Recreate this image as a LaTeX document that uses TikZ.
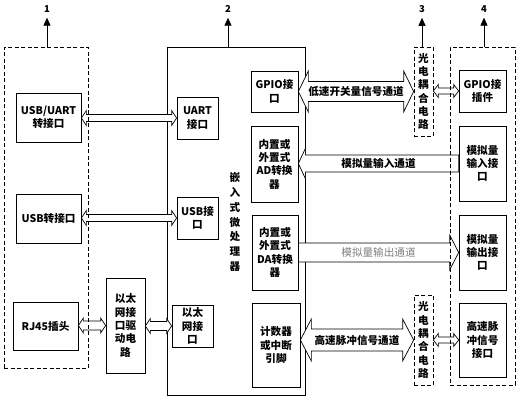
\documentclass[tikz,border=0pt]{standalone}
\usepackage{fontspec}
\setmainfont{Noto Sans CJK SC}
\usepackage{xcolor}
\usepackage{tikz}
\usetikzlibrary{positioning, arrows.meta, backgrounds, calc}
\definecolor{outgray}{HTML}{808080}

\newcommand{\boxfont}{\fontsize{10.6}{13.3}\selectfont\bfseries}
\newcommand{\vertfont}{\fontsize{10.6}{14.7}\selectfont\bfseries}

% hollow channel arrows between two anchors, tip(s) drawn as polygon
\newcommand{\chan}[6][]{%
  \draw[chanline,#1] let \p1=(#2), \p2=(#3), \n1={sign(\x2-\x1)} in
    (\x1,\y1+#4) -- (\x2-\n1*#6,\y1+#4) -- (\x2-\n1*#6,\y1+#5) -- (\x2,\y1)
    -- (\x2-\n1*#6,\y1-#5) -- (\x2-\n1*#6,\y1-#4) -- (\x1,\y1-#4) -- cycle;}
\newcommand{\dchan}[6][]{%
  \draw[chanline,#1] let \p1=(#2), \p2=(#3), \n1={sign(\x2-\x1)} in
    (\x1,\y2) -- (\x1+\n1*#6,\y2+#5) -- (\x1+\n1*#6,\y2+#4) -- (\x2-\n1*#6,\y2+#4)
    -- (\x2-\n1*#6,\y2+#5) -- (\x2,\y2) -- (\x2-\n1*#6,\y2-#5) -- (\x2-\n1*#6,\y2-#4)
    -- (\x1+\n1*#6,\y2-#4) -- (\x1+\n1*#6,\y2-#5) -- cycle;}

\tikzset{
  wh/.style 2 args={minimum width=#1pt, minimum height=#2pt},
  blk/.style={draw, line width=0.7pt, align=center, inner sep=0pt, font=\boxfont},
  grp/.style={draw, line width=0.7pt, dash pattern=on 4pt off 2.5pt, inner sep=0pt},
  optobox/.style={grp, align=center, font=\boxfont},
  chanline/.style={draw, fill=white, line width=0.7pt},
  chantext/.style={font=\boxfont, inner sep=0pt},
  tag/.style={font=\fontsize{9.5}{10}\selectfont\bfseries, inner sep=1pt},
  tagarrow/.style={line width=0.8pt, -{Triangle[length=8pt,width=7pt]}, shorten >=4pt},
}

\begin{document}
\begin{tikzpicture}[x=1pt, y=-1pt]
  \useasboundingbox (0,0) rectangle (519,400);

  % processor frame goes below the channel arrows
  \begin{scope}[on background layer]
    \node[blk, wh={138}{348}] (proc) at (236,221) {};
  \end{scope}

  % group 1
  \node[blk, wh={65}{49}] (usbuart) at (48.5,117.5) {USB/UART\\转接口};
  \node[blk, wh={65}{49}] (usbconv) at (48.5,218.5) {USB转接口};
  \node[blk, wh={65}{48}] (rj45) at (45.5,326) {RJ45插头};
  \node[blk, wh={39}{95}] (ethdrv) at (125.5,325.5) {以太\\网接\\口驱\\动电\\路};

  % group 2
  \node[blk, wh={41}{42}] (uart) at (197.5,118) {UART\\接口};
  \node[blk, wh={41}{42}] (usbif) at (197.5,218) {USB接\\口};
  \node[blk, wh={41}{42}] (ethif) at (192.5,326) {以太\\网接\\口};
  \node[align=center, font=\vertfont, inner sep=0pt] (proctxt) at (235,222) {嵌\\入\\式\\微\\处\\理\\器};
  \node[blk, wh={47}{41}] (gpio) at (274.5,91.5) {GPIO接\\口};
  \node[blk, wh={47}{76}] (ad) at (274.5,164) {内置或\\外置式\\AD转换\\器};
  \node[blk, wh={46}{75}] (da) at (275,252.5) {内置或\\外置式\\DA转换\\器};
  \node[blk, wh={48}{84}] (cnt) at (276,345) {计数器\\或中断\\引脚};

  % group 4
  \node[blk, wh={47}{42}] (gpioconn) at (482.5,91) {GPIO接\\插件};
  \node[blk, wh={47}{75}] (ain) at (482.5,163.5) {模拟量\\输入接\\口};
  \node[blk, wh={47}{75}] (aout) at (482.5,252.5) {模拟量\\输出接\\口};
  \node[blk, wh={47}{74}] (hsif) at (482.5,340) {高速脉\\冲信号\\接口};

  % optocoupler places, framed again above the arrows
  \begin{scope}[on background layer]
    \node[grp, wh={19}{89}] (optoa) at (423.5,91.5) {};
    \node[grp, wh={19}{90}] (optob) at (423.5,340) {};
  \end{scope}

  % channels
  \begin{scope}[on background layer]
    \dchan{usbuart.east}{uart.west}{3.5pt}{7.5pt}{5pt}
    \dchan{usbconv.east}{usbif.west}{3.5pt}{7.5pt}{5pt}
    \dchan{rj45.east}{ethdrv.west}{4.5pt}{7.5pt}{5pt}
    \dchan{ethdrv.east}{ethif.west}{4.5pt}{7.5pt}{5pt}
    \dchan{gpio.east}{optoa.west}{10pt}{20.5pt}{10pt}
    \dchan{optoa.east}{gpioconn.west}{3pt}{6.5pt}{5pt}
    \chan{ain.west}{ad.east}{8.5pt}{15pt}{7pt}
    \chan{da.east}{aout.west}{9.5pt}{17.5pt}{9pt}
    \dchan{cnt.east}{optob.west}{11pt}{21pt}{11pt}
    \dchan{optob.east}{hsif.west}{3pt}{6.5pt}{5pt}
  \end{scope}

  \node[grp, wh={84}{321}] (grp1) at (46,207.5) {};
  \node[grp, wh={65}{338}] (grp4) at (482.5,216) {};
  \node[optobox, wh={19}{89}] at (optoa) {光\\电\\耦\\合\\电\\路};
  \node[optobox, wh={19}{90}] at (optob) {光\\电\\耦\\合\\电\\路};

  \node[chantext] (lslabel) at ($(gpio.east)!0.5!(optoa.west)$) {低速开关量信号通道};
  \node[chantext] (ainlabel) at ($(ad.east)!0.5!(ain.west)$) {模拟量输入通道};
  \node[chantext, text=outgray, font=\fontsize{10.6}{13.3}\selectfont] (aoutlabel) at ($(da.east)!0.5!(aout.west)$) {模拟量输出通道};
  \node[chantext] (hslabel) at ($(cnt.east |- optob.west)!0.5!(optob.west)$) {高速脉冲信号通道};

  % numbered tags
  \node[tag] (n1) at (47,9) {1};
  \node[tag] (n2) at (228,9) {2};
  \node[tag] (n3) at (422,9) {3};
  \node[tag] (n4) at (484,9) {4};
  \draw[tagarrow] (n1 |- grp1.north) -- (n1.south);
  \draw[tagarrow] (n2 |- proc.north) -- (n2.south);
  \draw[tagarrow] (n3 |- optoa.north) -- (n3.south);
  \draw[tagarrow] (n4 |- grp4.north) -- (n4.south);
\end{tikzpicture}
\end{document}
